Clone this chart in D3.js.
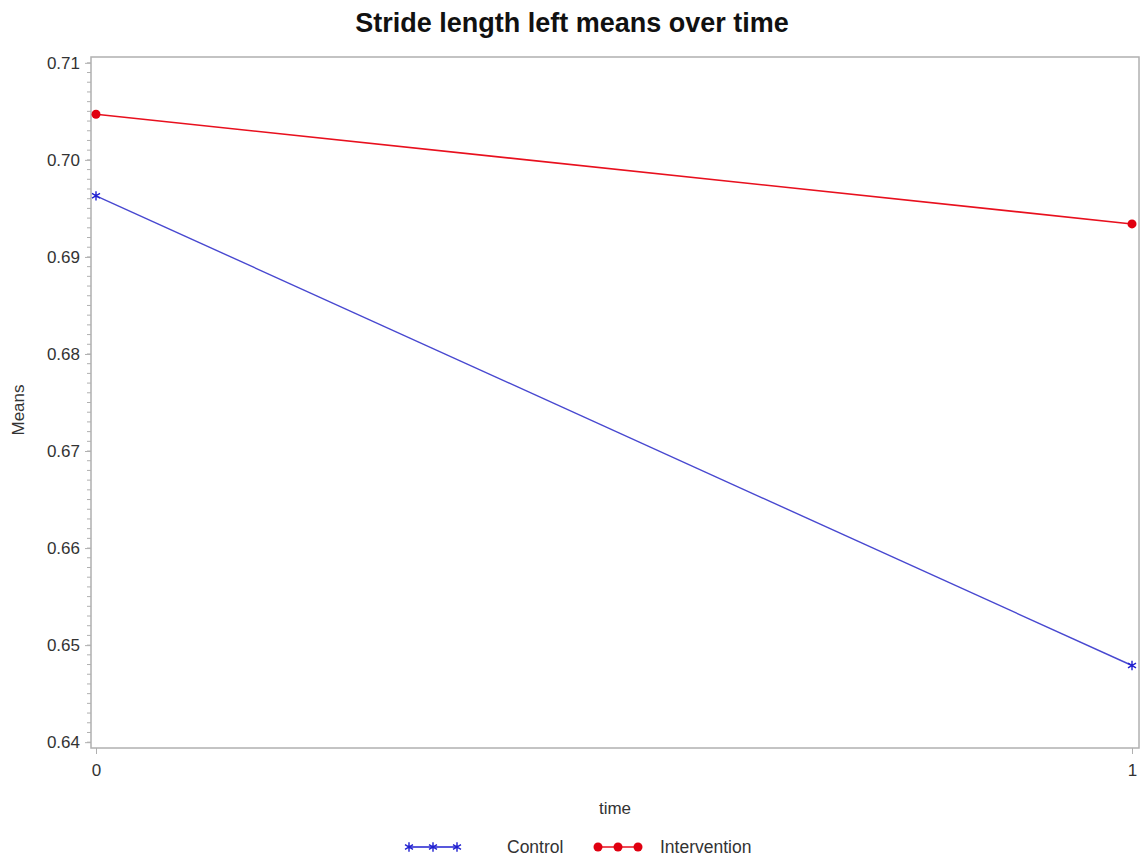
<!DOCTYPE html>
<html>
<head>
<meta charset="utf-8">
<script src="https://cdn.jsdelivr.net/npm/d3@7"></script>
<style>
  body { margin: 0; background: #fff; }
  text { font-family: "Liberation Sans", Arial, sans-serif; }
</style>
</head>
<body>
<div id="chart"></div>
<script>
// data
var times = [0, 1];
var controlMeans = [0.6963, 0.6479];
var interventionMeans = [0.7047, 0.6934];
var yTicks = [0.64, 0.65, 0.66, 0.67, 0.68, 0.69, 0.70, 0.71];
var seriesNames = ["Control", "Intervention"];

var width = 1144, height = 862;
var margin = {top: 57, right: 5, bottom: 114, left: 91};
var innerW = width - margin.left - margin.right,
    innerH = height - margin.top - margin.bottom;

var svg = d3.select("#chart").append("svg")
    .attr("width", width)
    .attr("height", height);

var g = svg.append("g")
    .attr("transform", "translate(" + margin.left + "," + margin.top + ")");

// x runs from 0 to 1 with a small pad inside the frame
var x = d3.scaleLinear().domain([0, 1]).range([5, innerW - 7]);
var y = d3.scaleLinear().domain([0.6394, 0.7106]).range([innerH, 0]);

// frame
g.append("rect")
    .attr("width", innerW).attr("height", innerH)
    .attr("fill", "none").attr("stroke", "#b0b0b0").attr("stroke-width", 1.5);

// minor y ticks every 0.001
var minor = d3.range(640, 711).map(function(d) { return d / 1000; });
g.selectAll(".minor").data(minor).enter().append("line")
    .attr("x1", -4).attr("x2", 0)
    .attr("y1", function(d) { return y(d); }).attr("y2", function(d) { return y(d); })
    .attr("stroke", "#b0b0b0");

var yAxis = d3.axisLeft(y).tickValues(yTicks).tickFormat(d3.format(".2f"))
    .tickSize(6).tickPadding(5);
var ya = g.append("g").call(yAxis);
ya.select(".domain").remove();
ya.selectAll("line").attr("stroke", "#b0b0b0");
ya.selectAll("text").attr("font-size", 17).attr("fill", "#333");

var xAxis = d3.axisBottom(x).tickValues(times).tickFormat(d3.format("d"))
    .tickSize(6).tickPadding(10);
var xa = g.append("g").attr("transform", "translate(0," + innerH + ")").call(xAxis);
xa.select(".domain").remove();
xa.selectAll("line").attr("stroke", "#b0b0b0");
xa.selectAll("text").attr("font-size", 17).attr("fill", "#333");

var line = d3.line()
    .x(function(d, i) { return x(times[i]); })
    .y(function(d) { return y(d); });

g.append("path").datum(interventionMeans)
    .attr("d", line).attr("fill", "none")
    .attr("stroke", "#e8101e").attr("stroke-width", 1.6);
g.append("path").datum(controlMeans)
    .attr("d", line).attr("fill", "none")
    .attr("stroke", "#4848d0").attr("stroke-width", 1.4);

// markers
g.selectAll(".dot").data(interventionMeans).enter().append("circle")
    .attr("cx", function(d, i) { return x(times[i]); })
    .attr("cy", function(d) { return y(d); })
    .attr("r", 4.5).attr("fill", "#e00010");

var star = d3.symbol().type(d3.symbolAsterisk).size(60);
g.selectAll(".star").data(controlMeans).enter().append("path")
    .attr("d", star)
    .attr("transform", function(d, i) { return "translate(" + x(times[i]) + "," + y(d) + ")"; })
    .attr("fill", "none").attr("stroke", "#2020d0").attr("stroke-width", 1.4);

// title and axis labels
svg.append("text").attr("x", 572).attr("y", 32).attr("text-anchor", "middle")
    .attr("font-size", 27).attr("font-weight", "bold").attr("fill", "#111")
    .text("Stride length left means over time");
svg.append("text").attr("x", 615).attr("y", 814).attr("text-anchor", "middle")
    .attr("font-size", 17).attr("fill", "#333").text("time");
svg.append("text").attr("transform", "translate(24,410) rotate(-90)")
    .attr("text-anchor", "middle").attr("font-size", 17).attr("fill", "#333").text("Means");

// legend
var leg = svg.append("g").attr("transform", "translate(0,847)");
var lc = leg.append("g");
lc.append("line").attr("x1", 409).attr("x2", 457).attr("stroke", "#2020d0").attr("stroke-width", 1.4);
lc.selectAll("path").data([409, 433, 457]).enter().append("path")
    .attr("d", star).attr("transform", function(d) { return "translate(" + d + ",0)"; })
    .attr("fill", "none").attr("stroke", "#2020d0").attr("stroke-width", 1.4);
leg.append("text").attr("x", 507).attr("y", 6).attr("font-size", 17.5).attr("fill", "#333").text(seriesNames[0]);
var li = leg.append("g");
li.append("line").attr("x1", 598).attr("x2", 638).attr("stroke", "#e8101e").attr("stroke-width", 1.6);
li.selectAll("circle").data([598, 618, 638]).enter().append("circle")
    .attr("cx", function(d) { return d; }).attr("r", 4.5).attr("fill", "#e00010");
leg.append("text").attr("x", 660).attr("y", 6).attr("font-size", 17.5).attr("fill", "#333").text(seriesNames[1]);
</script>
</body>
</html>
